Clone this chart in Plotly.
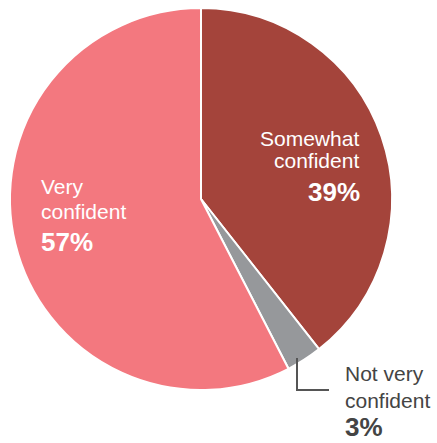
import plotly.graph_objects as go

labels = ["Somewhat confident", "Not very confident", "Very confident"]
values = [39, 3, 57]
colors = ["#A4443B", "#96989B", "#F3787F"]
pct_labels = ["39%", "3%", "57%"]

W, H = 437, 443

def px(x):
    return x / W

def py(y):
    return 1 - y / H

fig = go.Figure(go.Pie(
    labels=labels, values=values, sort=False, direction="clockwise", rotation=0,
    marker=dict(colors=colors, line=dict(color="white", width=2)),
    textinfo="none", hoverinfo="label+percent", showlegend=False,
    domain=dict(x=[px(10), px(392)], y=[py(390), py(8)]),
))

FONT = "Liberation Sans, Arial, Helvetica, sans-serif"
anns = []
def add(text, x, y, size, color, xanchor, bold=False, yanchor="middle", align="center"):
    anns.append(dict(text=f"<b>{text}</b>" if bold else text, x=px(x), y=py(y),
                     xref="paper", yref="paper", xanchor=xanchor, yanchor=yanchor,
                     showarrow=False, borderpad=0, align=align,
                     font=dict(family=FONT, size=size, color=color)))

# Somewhat confident
add("Somewhat", 360, 138, 21, "white", "right")
add("confident", 360, 161, 21, "white", "right")
add(pct_labels[0], 361, 192, 26, "white", "right", True)
# Very confident
add("Very", 40, 187, 21, "white", "left")
add("confident", 40, 211, 21, "white", "left")
add(pct_labels[2], 40, 242, 26, "white", "left", True)
# Not very confident (single block)
add("Not very<br>confident<br><span style='font-size:26px'><b>" + pct_labels[1] + "</b></span>",
    344, 443, 21, "#444444", "left", yanchor="bottom", align="left")

shapes = [
    dict(type="line", xref="paper", yref="paper", x0=px(297), y0=py(358), x1=px(297), y1=py(390),
         line=dict(color="#555555", width=2)),
    dict(type="line", xref="paper", yref="paper", x0=px(296), y0=py(390), x1=px(329), y1=py(390),
         line=dict(color="#555555", width=2)),
]

fig.update_layout(
    width=W, height=H, margin=dict(l=0, r=0, t=0, b=0),
    paper_bgcolor="white", plot_bgcolor="white",
    annotations=anns, shapes=shapes,
)
fig.write_html("out.html", config={"displayModeBar": False},
               post_script="document.body.style.margin='0px';document.body.style.overflow='hidden';")
